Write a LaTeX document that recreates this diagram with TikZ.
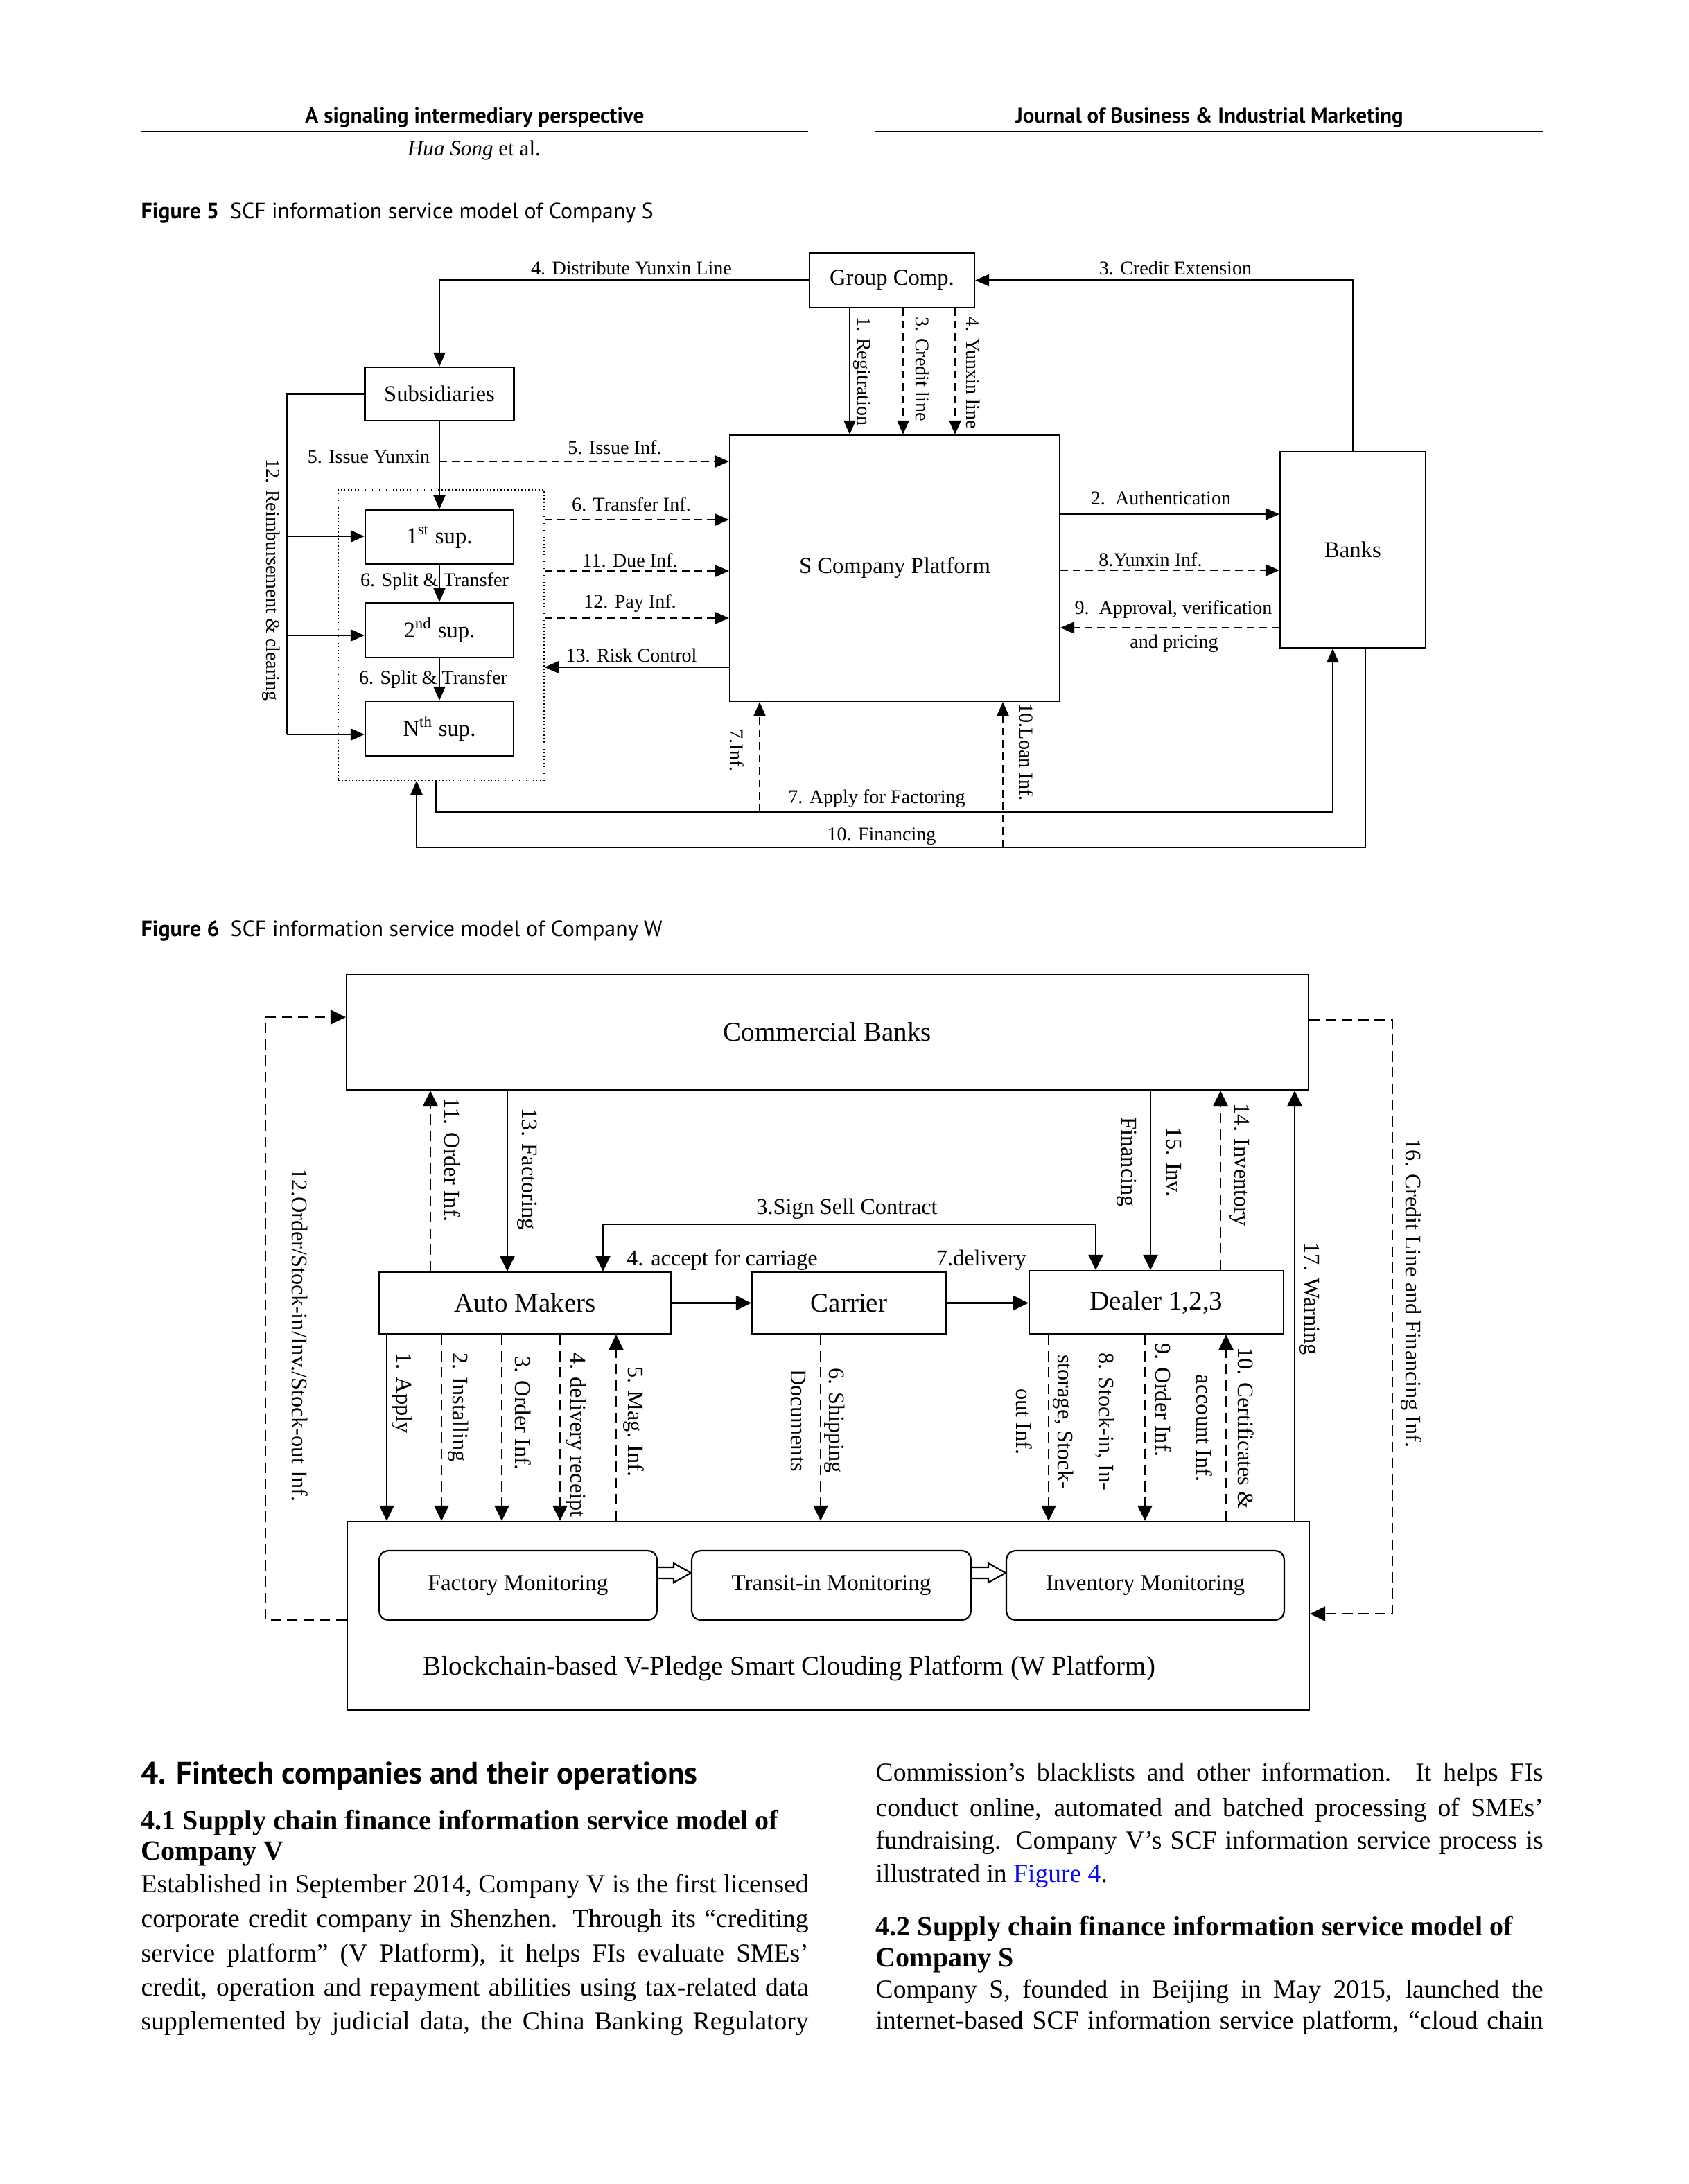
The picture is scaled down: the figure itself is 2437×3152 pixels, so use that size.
\documentclass[tikz,border=0pt]{standalone}
\usepackage{fontspec}
\setmainfont{Liberation Serif}
\newfontfamily\hsans{PT Sans}
\usetikzlibrary{arrows.meta,calc}
\definecolor{figblue}{RGB}{10,10,240}
\newcommand\bodyf{\fontsize{10.7}{13}\selectfont}
\newcommand\jl[1]{\hbox to 96.3mm{\bodyf #1}}
\newcommand\hd[1]{\fontsize{11.4}{13}\selectfont\bfseries #1}
\begin{document}
\begin{tikzpicture}[x=0.1mm,y=-0.1mm,
  ln/.style={line width=0.22mm},
  arrA/.style={ln,-{Triangle[length=2mm,width=1.7mm]}},
  darrA/.style={arrA,dash pattern=on 1.1mm off 0.7mm},
  arrB/.style={ln,-{Triangle[length=2.2mm,width=2.1mm]}},
  darrB/.style={arrB,dash pattern=on 1.5mm off 0.85mm},
  boxA/.style={draw,ln,inner sep=0pt,font=\fontsize{9.3}{11}\selectfont},
  boxB/.style={draw,ln,inner sep=0pt,font=\fontsize{11.1}{13}\selectfont},
  mon/.style={draw,ln,rounded corners=1.3mm,inner sep=0pt,minimum width=40.1mm,minimum height=10mm,font=\fontsize{9.4}{11}\selectfont},
  lblA/.style={font=\fontsize{8}{9.6}\selectfont,inner sep=0pt},
  lblB/.style={font=\fontsize{9.2}{11}\selectfont,inner sep=0pt},
  vlA/.style={lblA,rotate=-90,anchor=base west},
  vlB/.style={lblB,rotate=-90,anchor=base west},
  vcB/.style={rotate=-90,align=center,inner sep=0pt,font=\fontsize{9.2}{#1}\selectfont},
  txt/.style={inner sep=0pt,anchor=west},
]
\path[use as bounding box,fill=white] (0,0) rectangle (2437,3152);

% ---------------- header ----------------
\node[inner sep=0pt] (h1) at (685,170) {\resizebox{48.9mm}{!}{\hsans\bfseries A signaling intermediary perspective}};
\node[inner sep=0pt] (h2) at (684,217) {\resizebox{19.2mm}{!}{\itshape Hua Song\/ \upshape et al.}};
\node[inner sep=0pt] (h3) at (1745,170) {\resizebox{55.9mm}{!}{\hsans\bfseries Journal of Business \& Industrial Marketing}};
\coordinate (rl1) at (203,190); \coordinate (rl2) at (1166,190);
\coordinate (rr1) at (1263,190); \coordinate (rr2) at (2226,190);
\draw[line width=0.28mm] (rl1) -- (rl2);
\draw[line width=0.28mm] (rr1) -- (rr2);

\node[txt] (cap5) at (203,308) {\resizebox{73.9mm}{!}{\hsans\textbf{Figure 5}\hspace{0.5em}SCF information service model of Company S}};
\node[txt] (cap6) at (203,1343) {\resizebox{75.2mm}{!}{\hsans\textbf{Figure 6}\hspace{0.5em}SCF information service model of Company W}};

% ---------------- Figure 5 ----------------
\node[boxA,minimum width=23.8mm,minimum height=7.9mm] (gc) at (1287,404.5) {Group Comp.};
\node[boxA,minimum width=21.5mm,minimum height=7.7mm] (sub) at (634,568.5) {Subsidiaries};
\node[draw,line width=0.15mm,densely dotted,minimum width=29.7mm,minimum height=41.9mm,inner sep=0pt] (grp) at (636.5,916.5) {};
\node[boxA,minimum width=21.4mm,minimum height=7.8mm] (s1) at (634,775) {1\textsuperscript{st} sup.};
\node[boxA,minimum width=21.4mm,minimum height=7.9mm] (s2) at (634,909.5) {2\textsuperscript{nd} sup.};
\node[boxA,minimum width=21.4mm,minimum height=7.9mm] (sN) at (634,1051.5) {N\textsuperscript{th} sup.};
\node[boxA,minimum width=47.6mm,minimum height=38.4mm] (pl) at (1291,820) {S Company Platform};
\node[boxA,minimum width=21mm,minimum height=28.3mm] (bk) at (1952,793.5) {Banks};

% Group Comp -> Subsidiaries
\draw[arrA] (gc.west) -| (sub.north);
\node[lblA] (l4d) at (911,387) {4. Distribute Yunxin Line};
% Banks -> Group Comp
\draw[arrA] (bk.north) |- (gc.east);
\node[lblA] (l3c) at (1696,387) {3. Credit Extension};
% Group Comp -> Platform
\coordinate (xg1) at (1226,0); \coordinate (xg2) at (1303,0); \coordinate (xg3) at (1378,0);
\draw[arrA] (gc.south -| xg1) -- (pl.north -| xg1);
\draw[darrA] (gc.south -| xg2) -- (pl.north -| xg2);
\draw[darrA] (gc.south -| xg3) -- (pl.north -| xg3);
\node[vlA] (l1r) at (1237,457) {1. Regitration};
\node[vlA] (l3cl) at (1321,457) {3. Credit line};
\node[vlA] (l4y) at (1394,457) {4. Yunxin line};
% Subsidiaries -> suppliers
\draw[arrA] (sub.south) -- (s1.north);
\node[lblA] (l5y) at (532,659) {5. Issue Yunxin};
\draw[arrA] (s1.south) -- (s2.north);
\node[lblA] (l6a) at (627,840) {6. Split \& Transfer};
\draw[arrA] (s2.south) -- (sN.north);
\node[lblA] (l6b) at (625,981) {6. Split \& Transfer};
% info to platform
\coordinate (y5) at (0,666); \coordinate (y6) at (0,750); \coordinate (y11) at (0,824);
\coordinate (y12) at (0,892); \coordinate (y13) at (0,963);
\draw[darrA] (sub.south |- y5) -- (pl.west |- y5);
\node[lblA] (l5i) at (887,646) {5. Issue Inf.};
\draw[darrA] (grp.east |- y6) -- (pl.west |- y6);
\node[lblA] (l6t) at (911,728) {6. Transfer Inf.};
\draw[darrA] (grp.east |- y11) -- (pl.west |- y11);
\node[lblA] (l11) at (909,809) {11. Due Inf.};
\draw[darrA] (grp.east |- y12) -- (pl.west |- y12);
\node[lblA] (l12) at (909,871) {12. Pay Inf.};
\draw[arrA] (pl.west |- y13) -- (grp.east |- y13);
\node[lblA] (l13) at (911,946) {13. Risk Control};
% reimbursement
\coordinate (xr) at (414,0); \coordinate (yb1) at (0,774); \coordinate (yb2) at (0,917); \coordinate (ybN) at (0,1060);
\draw[ln] (sub.west) -| (xr |- ybN);
\draw[arrA] (xr |- yb1) -- (s1.west |- yb1);
\draw[arrA] (xr |- yb2) -- (s2.west |- yb2);
\draw[arrA] (xr |- ybN) -- (sN.west |- ybN);
\node[lblA,rotate=-90,anchor=base] (l12r) at (384,837) {12. Reimbursement \& clearing};
% platform <-> banks
\coordinate (ya2) at (0,742); \coordinate (ya8) at (0,823); \coordinate (ya9) at (0,906);
\draw[arrA] (pl.east |- ya2) -- (bk.west |- ya2);
\node[lblA] (l2a) at (1675,719) {2.\ \ Authentication};
\draw[darrA] (pl.east |- ya8) -- (bk.west |- ya8);
\node[lblA] (l8y) at (1660,808) {8.Yunxin Inf.};
\draw[darrA] (bk.west |- ya9) -- (pl.east |- ya9);
\node[lblA] (l9a) at (1693,880) {9.\ \ Approval, verification};
\node[lblA] (l9b) at (1694,929) {and pricing};
% bottom loops
\coordinate (x7s) at (629,0); \coordinate (y7) at (0,1172); \coordinate (x7e) at (1923,0);
\draw[arrA] (grp.south -| x7s) |- (x7e |- y7) -- (bk.south -| x7e);
\coordinate (x10s) at (1970,0); \coordinate (y10) at (0,1223); \coordinate (x10e) at (601,0);
\draw[arrA] (bk.south -| x10s) |- (x10e |- y10) -- (grp.south -| x10e);
\coordinate (x7i) at (1096,0); \coordinate (x10i) at (1447,0);
\draw[darrA] (x7i |- y7) -- (pl.south -| x7i);
\draw[darrA] (x10i |- y10) -- (pl.south -| x10i);
\node[lblA] (l7a) at (1265,1153) {7. Apply for Factoring};
\node[lblA] (l10f) at (1272,1207) {10. Financing};
\node[vlA] (l7i) at (1053,1052) {7.Inf.};
\node[vlA] (l10l) at (1471,1015) {10.Loan Inf.};

% ---------------- Figure 6 ----------------
\node[boxB,minimum width=138.8mm,minimum height=16.7mm] (cb) at (1194,1489.5) {Commercial Banks};
\node[boxB,minimum width=42.1mm,minimum height=8.9mm] (am) at (757.5,1880.5) {Auto Makers};
\node[boxB,minimum width=28mm,minimum height=8.9mm] (ca) at (1225,1880.5) {Carrier};
\node[boxB,minimum width=36.7mm,minimum height=9.1mm] (dl) at (1668.5,1879.5) {Dealer 1,2,3};
\node[draw,ln,minimum width=138.8mm,minimum height=27.2mm,inner sep=0pt] (wp) at (1195,2332) {};
\node[mon] (fm) at (747.5,2288) {Factory Monitoring};
\node[mon,minimum width=40.3mm] (tm) at (1199.5,2288) {Transit-in Monitoring};
\node[mon] (im) at (1652.5,2288) {Inventory Monitoring};
\node[inner sep=0pt,font=\fontsize{11.1}{13}\selectfont] (wpl) at (1139,2408) {Blockchain-based V-Pledge Smart Clouding Platform (W Platform)};

% hollow arrows
\coordinate (yh) at (0,2270);
\draw[ln,fill=white] ($(fm.east |- yh)+(0,-8)$) -- ($(tm.west |- yh)+(-25,-8)$) -- ($(tm.west |- yh)+(-25,-14)$) -- (tm.west |- yh) -- ($(tm.west |- yh)+(-25,14)$) -- ($(tm.west |- yh)+(-25,8)$) -- ($(fm.east |- yh)+(0,8)$);
\draw[ln,fill=white] ($(tm.east |- yh)+(0,-8)$) -- ($(im.west |- yh)+(-25,-8)$) -- ($(im.west |- yh)+(-25,-14)$) -- (im.west |- yh) -- ($(im.west |- yh)+(-25,14)$) -- ($(im.west |- yh)+(-25,8)$) -- ($(tm.east |- yh)+(0,8)$);

% outer dashed loops
\coordinate (xL) at (383,0); \coordinate (yLb) at (0,2338); \coordinate (yLt) at (0,1468);
\draw[darrB] (wp.west |- yLb) -| (xL |- yLt) -- (cb.west |- yLt);
\node[vlB] (l12o) at (421,1686) {12.Order/Stock-in/Inv./Stock-out Inf.};
\coordinate (xR) at (2009,0); \coordinate (yRt) at (0,1472); \coordinate (yRb) at (0,2329);
\draw[darrB] (cb.east |- yRt) -| (xR |- yRb) -- (wp.east |- yRb);
\node[vlB] (l16) at (2028,1643) {16. Credit Line and Financing Inf.};

% banks <-> auto makers
\coordinate (x11) at (621,0); \coordinate (x13) at (732,0);
\draw[darrB] (am.north -| x11) -- (cb.south -| x11);
\node[vlB] (l11o) at (641,1584) {11. Order Inf.};
\draw[arrB] (cb.south -| x13) -- (am.north -| x13);
\node[vlB] (l13f) at (753,1599) {13. Factoring};

% contract
\coordinate (xs1) at (870,0); \coordinate (xs2) at (1581,0); \coordinate (ysc) at (0,1767);
\draw[ln,{Triangle[length=2.2mm,width=2.1mm]}-{Triangle[length=2.2mm,width=2.1mm]}] (am.north -| xs1) |- (xs2 |- ysc) -- (dl.north -| xs2);
\node[lblB] (l3s) at (1222,1745) {3.Sign Sell Contract};
\node[lblB] (l4a) at (1042,1819) {4. accept for carriage};
\node[lblB] (l7d) at (1416,1819) {7.delivery};
\draw[arrB] (am.east) -- (ca.west);
\draw[arrB] (ca.east) -- (dl.west |- ca.east);

% banks <-> dealer
\coordinate (x15) at (1660,0); \coordinate (x14) at (1761,0); \coordinate (x17) at (1868,0);
\draw[arrB] (cb.south -| x15) -- (dl.north -| x15);
\node[vcB=18.5] (l15) at (1658,1677) {15. Inv.\\Financing};
\draw[darrB] (dl.north -| x14) -- (cb.south -| x14);
\node[vlB] (l14) at (1781,1592) {14. Inventory};
\draw[arrB] (wp.north -| x17) -- (cb.south -| x17);
\node[vlB] (l17) at (1882,1793) {17. Warning};

% auto makers <-> W platform
\coordinate (xa1) at (558,0); \coordinate (xa2) at (637,0); \coordinate (xa3) at (724,0);
\coordinate (xa4) at (808,0); \coordinate (xa5) at (889,0);
\draw[arrB] (am.south -| xa1) -- (wp.north -| xa1);
\node[vlB] (la1) at (572,1952) {1. Apply};
\draw[darrB] (am.south -| xa2) -- (wp.north -| xa2);
\node[vlB] (la2) at (653,1952) {2. Installing};
\draw[darrB] (am.south -| xa3) -- (wp.north -| xa3);
\node[vlB] (la3) at (743,1957) {3. Order Inf.};
\draw[darrB] (am.south -| xa4) -- (wp.north -| xa4);
\node[vlB] (la4) at (823,1952) {4. delivery receipt};
\draw[darrB] (wp.north -| xa5) -- (am.south -| xa5);
\node[vlB] (la5) at (906,1972) {5. Mag. Inf.};

% carrier -> W platform
\coordinate (xs6) at (1184,0);
\draw[darrB] (ca.south -| xs6) -- (wp.north -| xs6);
\node[vcB=15.4] (l6s) at (1180,2050) {6. Shipping\\Documents};

% dealer <-> W platform
\coordinate (x8) at (1513,0); \coordinate (x9) at (1652,0); \coordinate (x10) at (1769,0);
\draw[darrB] (dl.south -| x8) -- (wp.north -| x8);
\node[vcB=17] (l8s) at (1537,2052) {8. Stock-in, In-\\storage, Stock-\\out Inf.};
\draw[darrB] (dl.south -| x9) -- (wp.north -| x9);
\node[vlB] (l9o) at (1667,1938) {9. Order Inf.};
\draw[darrB] (wp.north -| x10) -- (dl.south -| x10);
\node[vcB=17] (l10c) at (1768,2061) {10. Certificates \&\\account Inf.};

% ---------------- body text ----------------
\node[txt] (sec4) at (203,2563) {\resizebox{80.3mm}{!}{\hsans\bfseries 4. Fintech companies and their operations}};
\node[txt] (s41a) at (203,2631) {\hd{4.1 Supply chain finance information service model of}};
\node[txt] (s41b) at (203,2676) {\hd{Company V}};
\node[txt] (b1) at (203,2722) {\jl{Established in September 2014, Company V is the first licensed}};
\node[txt] (b2) at (203,2772) {\jl{corporate credit company in Shenzhen. Through its “crediting}};
\node[txt] (b3) at (203,2822) {\jl{service platform” (V Platform), it helps FIs evaluate SMEs’}};
\node[txt] (b4) at (203,2871) {\jl{credit, operation and repayment abilities using tax-related data}};
\node[txt] (b5) at (203,2920) {\jl{supplemented by judicial data, the China Banking Regulatory}};

\node[txt] (r1) at (1263,2561) {\jl{Commission’s blacklists and other information. It helps FIs}};
\node[txt] (r2) at (1263,2612) {\jl{conduct online, automated and batched processing of SMEs’}};
\node[txt] (r3) at (1263,2659) {\jl{fundraising. Company V’s SCF information service process is}};
\node[txt] (r4) at (1263,2707) {\bodyf illustrated in \textcolor{figblue}{Figure 4}.};
\node[txt] (s42a) at (1263,2784) {\hd{4.2 Supply chain finance information service model of}};
\node[txt] (s42b) at (1263,2830) {\hd{Company S}};
\node[txt] (r5) at (1263,2874) {\jl{Company S, founded in Beijing in May 2015, launched the}};
\node[txt] (r6) at (1263,2919) {\jl{internet-based SCF information service platform, “cloud chain}};
\end{tikzpicture}
\end{document}
